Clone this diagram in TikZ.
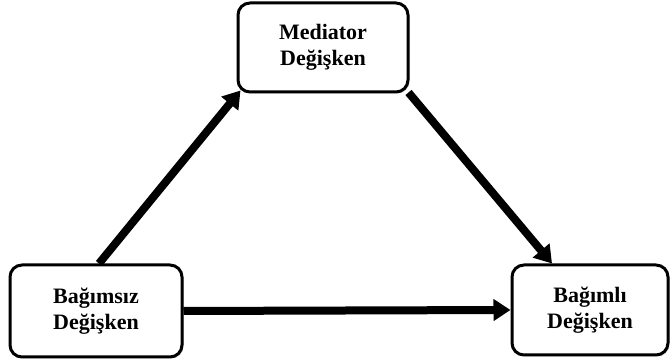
\documentclass[tikz,border=0pt]{standalone}
\usepackage{fontspec}
\setmainfont{Liberation Serif}
\usetikzlibrary{arrows.meta,shadows}
\begin{document}
\begin{tikzpicture}[x=1pt,y=1pt,
  varbox/.style={draw=black, line width=3pt, rounded corners=12pt, fill=white,
    minimum width=#1, align=center, font=\bfseries\fontsize{22}{25.5}\selectfont,
    drop shadow={shadow xshift=1.5pt, shadow yshift=-1.5pt, opacity=0.35, fill=gray}},
  flow/.style={line width=8pt, -{Triangle[length=17pt,width=21pt]}}
]
\useasboundingbox (0,0) rectangle (672,363);
\node[varbox=170pt, minimum height=89pt] (med) at (323,315.5) {Mediator\\Değişken};
\node[varbox=172pt, minimum height=92pt] (ind) at (96,52) {Bağımsız\\Değişken};
\node[varbox=156pt, minimum height=90pt] (dep) at (590,53) {Bağımlı\\Değişken};
\draw[flow] ([xshift=3pt]ind.north) -- ([xshift=4pt,yshift=3pt]med.south west);
\draw[flow] ([xshift=-1pt,yshift=1pt]med.south east) -- ([xshift=-38pt]dep.north);
\draw[flow] (ind.east) -- (dep.west);
\end{tikzpicture}
\end{document}
